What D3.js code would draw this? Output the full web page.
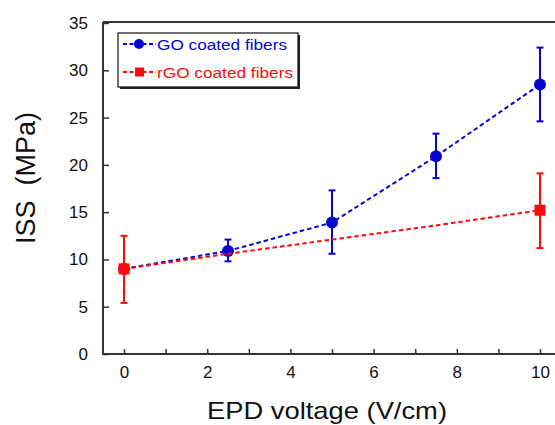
<!DOCTYPE html>
<html><head><meta charset="utf-8">
<script src="https://cdn.jsdelivr.net/npm/d3@7"></script>
<style>body{margin:0;background:#fff}svg{display:block}</style>
</head><body>
<svg id="c" width="555" height="425"></svg>
<script>
const voltages = [0, 2.5, 5, 7.5, 10];
const goValues = [9.0, 10.9, 13.9, 20.9, 28.5];
const goErrLow = [null, 9.8, 10.6, 18.6, 24.6];
const goErrHigh = [null, 12.1, 17.3, 23.3, 32.4];
const rgoVoltages = [0, 2.5, 5, 7.5, 10];
const rgoValues = [9.0, 10.6, 12.1, 13.6, 15.2];
const rgoMarked = [true, false, false, false, true];
const rgoErrLow = [5.4, null, null, null, 11.2];
const rgoErrHigh = [12.5, null, null, null, 19.1];
const xTicks = [0, 2, 4, 6, 8, 10];
const yTicks = [0, 5, 10, 15, 20, 25, 30, 35];
const seriesNames = ["GO coated fibers", "rGO coated fibers"];

const blue = "#0505d5", red = "#ff0a0a";
const svg = d3.select("#c");
const x = d3.scaleLinear().domain([0, 10]).range([124, 540]);
const y = d3.scaleLinear().domain([0, 35]).range([354, 23]);
const font = "'Liberation Sans', Arial, sans-serif";

// frame: top line
svg.append("line").attr("x1", 103).attr("x2", 555).attr("y1", 22).attr("y2", 22)
  .attr("stroke", "#333").attr("stroke-width", 2);

// x axis
const xAxis = d3.axisBottom(x).tickValues(d3.range(0, 11, 1)).tickSize(-5).tickSizeOuter(0)
  .tickFormat(d => xTicks.includes(d) ? d : "");
const gx = svg.append("g").attr("transform", "translate(0,354)").call(xAxis);
gx.select(".domain").remove();
gx.append("line").attr("x1", 103).attr("x2", 555).attr("stroke", "#333").attr("stroke-width", 2);
gx.selectAll(".tick line").attr("stroke", "#333").attr("stroke-width", 1.5);
gx.selectAll(".tick text").attr("y", 12).attr("dy", "0.71em").attr("font-family", font)
  .attr("font-size", 17).attr("fill", "#111");

// y axis
const yAxis = d3.axisLeft(y).tickValues(yTicks).tickSize(-6).tickSizeOuter(0);
const gy = svg.append("g").attr("transform", "translate(103,0)").call(yAxis);
gy.select(".domain").remove();
gy.append("line").attr("y1", 22).attr("y2", 355).attr("stroke", "#333").attr("stroke-width", 2);
gy.selectAll(".tick line").attr("stroke", "#333").attr("stroke-width", 1.5);
gy.selectAll(".tick text").attr("x", -15).attr("font-family", font)
  .attr("font-size", 17).attr("fill", "#111");

// labels
svg.append("text").attr("x", 207).attr("y", 419)
  .attr("textLength", 240).attr("lengthAdjust", "spacingAndGlyphs")
  .attr("font-family", font).attr("font-size", 24).attr("fill", "#111").text("EPD voltage (V/cm)");
svg.append("text").attr("transform", "translate(35,178) rotate(-90)").attr("text-anchor", "middle")
  .attr("font-family", font).attr("font-size", 27).attr("fill", "#111")
  .attr("xml:space", "preserve").text("ISS  (MPa)");

const line = d3.line().x(d => x(d[0])).y(d => y(d[1]));

// GO series
svg.append("path").datum(voltages.map((v, i) => [v, goValues[i]])).attr("d", line)
  .attr("fill", "none").attr("stroke", blue).attr("stroke-width", 2).attr("stroke-dasharray", "4.5,3");
voltages.forEach((v, i) => {
  if (goErrLow[i] !== null) {
    const g = svg.append("g").attr("stroke", blue).attr("stroke-width", 2);
    g.append("line").attr("x1", x(v)).attr("x2", x(v)).attr("y1", y(goErrLow[i])).attr("y2", y(goErrHigh[i]));
    [goErrLow[i], goErrHigh[i]].forEach(e => g.append("line").attr("x1", x(v) - 3.5).attr("x2", x(v) + 3.5)
      .attr("y1", y(e)).attr("y2", y(e)));
  }
  svg.append("circle").attr("cx", x(v)).attr("cy", y(goValues[i])).attr("r", 6).attr("fill", blue);
});

// rGO series
svg.append("path").datum(rgoVoltages.map((v, i) => [v, rgoValues[i]])).attr("d", line)
  .attr("fill", "none").attr("stroke", red).attr("stroke-width", 2).attr("stroke-dasharray", "4.5,3");
rgoVoltages.forEach((v, i) => {
  if (!rgoMarked[i]) return;
  const g = svg.append("g").attr("stroke", red).attr("stroke-width", 2);
  g.append("line").attr("x1", x(v)).attr("x2", x(v)).attr("y1", y(rgoErrLow[i])).attr("y2", y(rgoErrHigh[i]));
  [rgoErrLow[i], rgoErrHigh[i]].forEach(e => g.append("line").attr("x1", x(v) - 3.5).attr("x2", x(v) + 3.5)
    .attr("y1", y(e)).attr("y2", y(e)));
  svg.append("rect").attr("x", x(v) - 5.5).attr("y", y(rgoValues[i]) - 5.5).attr("width", 11).attr("height", 11)
    .attr("fill", red);
});

// legend
const lg = svg.append("g");
lg.append("rect").attr("x", 120).attr("y", 35).attr("width", 180).attr("height", 54).attr("fill", "#222");
lg.append("rect").attr("x", 118).attr("y", 33).attr("width", 180).attr("height", 54)
  .attr("fill", "#fff").attr("stroke", "#111").attr("stroke-width", 1.2);
const textLens = [130, 136];
[[blue, 44], [red, 72]].forEach(([c, yy], i) => {
  lg.append("line").attr("x1", 123).attr("x2", 156).attr("y1", yy).attr("y2", yy)
    .attr("stroke", c).attr("stroke-width", 2).attr("stroke-dasharray", "4,2.5");
  if (i === 0) lg.append("circle").attr("cx", 139).attr("cy", yy).attr("r", 5).attr("fill", c);
  else lg.append("rect").attr("x", 135).attr("y", yy - 4.5).attr("width", 9).attr("height", 9).attr("fill", c);
  lg.append("text").attr("x", 157).attr("y", yy + 6)
    .attr("textLength", textLens[i]).attr("lengthAdjust", "spacingAndGlyphs")
    .attr("font-family", font).attr("font-size", 15.5)
    .attr("fill", c).text(seriesNames[i]);
});
</script>
</body></html>
